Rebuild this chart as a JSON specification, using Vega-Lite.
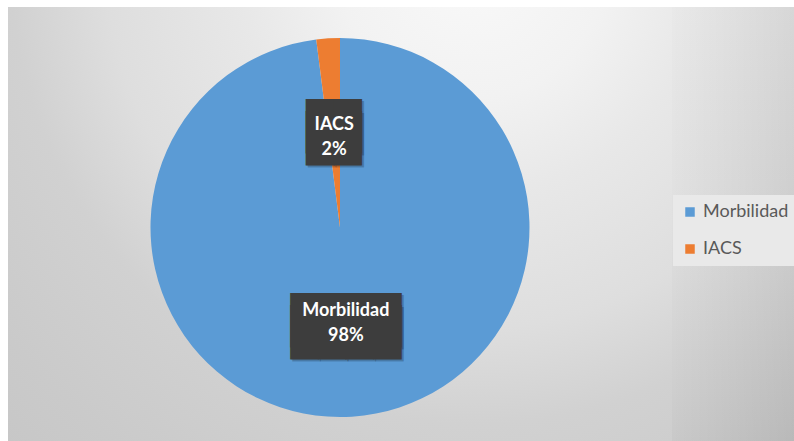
{
  "$schema": "https://vega.github.io/schema/vega-lite/v6.json",
  "background": "white",
  "padding": {"left": 8, "top": 7, "right": 0, "bottom": -7},
  "spacing": 0,
  "config": {"view": {"stroke": null}, "concat": {"spacing": 0}},
  "datasets": {
    "pie": [
      {"categoria": "Morbilidad", "porcentaje": 98},
      {"categoria": "IACS", "porcentaje": 2}
    ],
    "bg": [{}]
  },
  "hconcat": [
    {
      "width": 664,
      "height": 441,
      "layer": [
        {
          "data": {"name": "bg"},
          "mark": {
            "type": "rect",
            "fill": {
              "gradient": "radial",
              "x1": 0.7, "y1": 0.1, "x2": 0.7, "y2": 0.1, "r1": 0, "r2": 1.2,
              "stops": [
                {"offset": 0, "color": "#f9f9f9"},
                {"offset": 0.17, "color": "#f2f2f2"},
                {"offset": 0.29, "color": "#e8e8e8"},
                {"offset": 0.46, "color": "#dedede"},
                {"offset": 0.58, "color": "#d1d1d1"},
                {"offset": 0.75, "color": "#cacaca"},
                {"offset": 1, "color": "#c2c2c2"}
              ]
            }
          },
          "encoding": {}
        },
        {
          "data": {"name": "pie"},
          "mark": {"type": "arc", "outerRadius": 189.5},
          "encoding": {
            "theta": {"field": "porcentaje", "type": "quantitative", "stack": true},
            "order": {"field": "categoria", "sort": "descending"},
            "color": {
              "field": "categoria",
              "type": "nominal",
              "scale": {"domain": ["Morbilidad", "IACS"], "range": ["#5B9BD5", "#ED7D31"]},
              "legend": {
                "title": null,
                "orient": "none",
                "legendX": 665,
                "legendY": 188,
                "symbolType": "square",
                "symbolSize": 90,
                "symbolStrokeWidth": 0,
                "labelFont": "Lato",
                "labelFontSize": 18,
                "labelColor": "#595959",
                "labelOffset": 4,
                "rowPadding": 19,
                "fillColor": "#e9e9e9",
                "padding": 8
              }
            }
          }
        },
        {
          "data": {"name": "pie"},
          "mark": {"type": "text", "radius": 97.25, "dx": 2, "dy": -0.75, "font": "DejaVu Sans Mono", "fontSize": 46, "lineHeight": 12, "baseline": "middle", "align": "center", "color": "rgba(0,0,0,0.22)"},
          "encoding": {
            "theta": {"field": "porcentaje", "type": "quantitative", "stack": true},
            "order": {"field": "categoria", "sort": "descending"},
            "text": {"condition": {"test": "datum.categoria === 'IACS'", "value": ["██", "██"]}, "value": ["████", "████"]}
          }
        },
        {
          "data": {"name": "pie"},
          "mark": {"type": "text", "radius": 97.25, "dy": -2.75, "font": "DejaVu Sans Mono", "fontSize": 46, "lineHeight": 12, "baseline": "middle", "align": "center", "color": "#3d3d3d"},
          "encoding": {
            "theta": {"field": "porcentaje", "type": "quantitative", "stack": true},
            "order": {"field": "categoria", "sort": "descending"},
            "text": {"condition": {"test": "datum.categoria === 'IACS'", "value": ["██", "██"]}, "value": ["████", "████"]}
          }
        },
        {
          "data": {"name": "pie"},
          "transform": [{"calculate": "[datum.categoria, datum.porcentaje + '%']", "as": "etiqueta"}],
          "mark": {"type": "text", "radius": 93, "dy": -9.5, "font": "Lato", "fontWeight": "bold", "fontSize": 18, "lineHeight": 25, "baseline": "middle", "align": "center", "color": "white"},
          "encoding": {
            "theta": {"field": "porcentaje", "type": "quantitative", "stack": true},
            "order": {"field": "categoria", "sort": "descending"},
            "text": {"field": "etiqueta"}
          }
        }
      ]
    },
    {
      "width": 122,
      "height": 441,
      "data": {"name": "bg"},
      "layer": [
        {
          "mark": {
            "type": "rect",
            "fill": {
              "gradient": "linear",
              "x1": 0, "y1": 0, "x2": 0, "y2": 1,
              "stops": [
                {"offset": 0, "color": "#e9e9e9"},
                {"offset": 0.5, "color": "#dfdfdf"},
                {"offset": 1, "color": "#c8c8c8"}
              ]
            }
          },
          "encoding": {}
        },
        {
          "mark": {
            "type": "rect",
            "fill": {
              "gradient": "linear",
              "x1": 0, "y1": 0, "x2": 1, "y2": 0,
              "stops": [
                {"offset": 0, "color": "rgba(0,0,0,0)"},
                {"offset": 1, "color": "rgba(0,0,0,0.08)"}
              ]
            }
          },
          "encoding": {}
        }
      ]
    }
  ]
}
